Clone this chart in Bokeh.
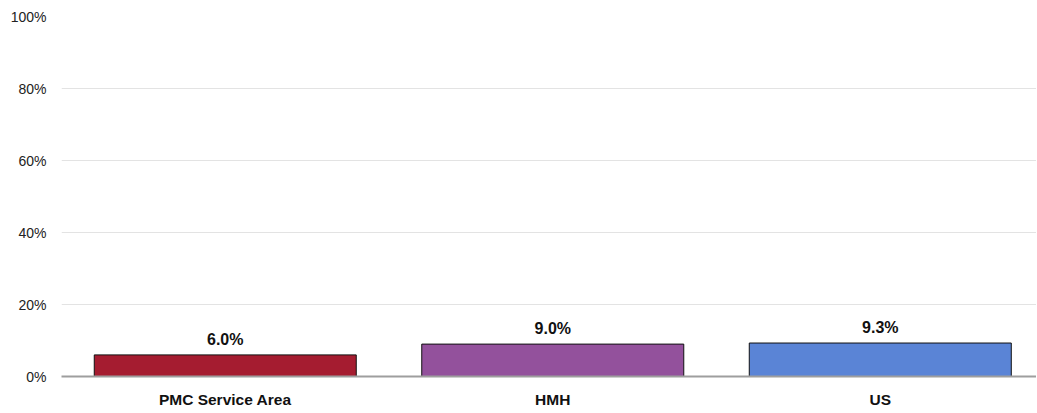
from bokeh.plotting import figure
from bokeh.models import Range1d, FixedTicker, PrintfTickFormatter, ColumnDataSource, LabelSet
from bokeh.core.properties import value
from bokeh.embed import file_html
from bokeh.resources import INLINE

categories = ["PMC Service Area", "HMH", "US"]
values = [6.0, 9.0, 9.3]
value_labels = ["6.0%", "9.0%", "9.3%"]
colors = ["#A51C30", "#93519C", "#5A84D6"]
y_ticks = [0, 20, 40, 60, 80, 100]

positions = [i + 0.5 for i in range(len(categories))]
src = ColumnDataSource(dict(x=positions, top=values, label=value_labels, color=colors))

FONT = "Liberation Sans"

p = figure(width=1036, height=412, output_backend="svg", toolbar_location=None,
           x_range=Range1d(0, 2.977), y_range=Range1d(0, 100),
           min_border_left=61, min_border_right=0, min_border_top=16, min_border_bottom=36)
p.outline_line_color = None
p.background_fill_color = "white"
p.border_fill_color = "white"

p.vbar(x="x", top="top", width=0.8, bottom=0, source=src, fill_color="color",
       line_color="#111111", line_width=1)

labels = LabelSet(x="x", y="top", text="label", source=src, text_align="center",
                  text_baseline="alphabetic", y_offset=10, text_font=value(FONT),
                  text_font_size="16px", text_font_style="bold", text_color="#111111")
p.add_layout(labels)

# x axis
p.xaxis.ticker = FixedTicker(ticks=positions)
p.xaxis.major_label_overrides = {pos: c for pos, c in zip(positions, categories)}
p.xaxis.major_label_text_font = FONT
p.xaxis.major_label_text_font_size = "15.5px"
p.xaxis.major_label_text_font_style = "bold"
p.xaxis.major_label_text_color = "#111111"
p.xaxis.major_label_standoff = 14
p.xaxis.major_tick_out = 0
p.xaxis.major_tick_in = 0
p.xaxis.major_tick_line_color = None
p.xaxis.minor_tick_line_color = None
p.xaxis.axis_line_color = "#9E9E9E"
p.xaxis.axis_line_width = 2
p.xgrid.grid_line_color = None

# y axis
p.yaxis.ticker = FixedTicker(ticks=y_ticks)
p.yaxis.formatter = PrintfTickFormatter(format="%d%%")
p.yaxis.major_label_text_font = FONT
p.yaxis.major_label_text_font_size = "14px"
p.yaxis.major_label_text_color = "#222222"
p.yaxis.major_label_standoff = 15
p.yaxis.major_tick_out = 0
p.yaxis.major_tick_in = 0
p.yaxis.major_tick_line_color = None
p.yaxis.minor_tick_line_color = None
p.yaxis.axis_line_color = None
p.ygrid.grid_line_color = "#E3E3E3"
p.ygrid.grid_line_width = 1

open("out.html", "w").write(file_html(p, INLINE))
